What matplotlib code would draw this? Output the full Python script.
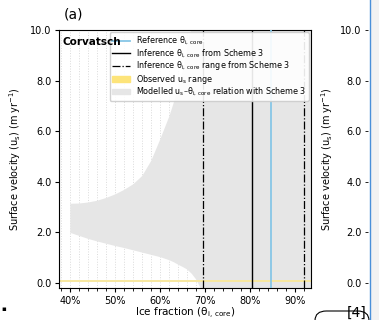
import matplotlib.pyplot as plt
from matplotlib.lines import Line2D
from matplotlib.patches import Patch, Rectangle, FancyBboxPatch
from matplotlib.ticker import MultipleLocator, PercentFormatter
import numpy as np

# modelled u_s - theta relation (band)
theta = [0.40, 0.42, 0.44, 0.46, 0.48, 0.50, 0.52, 0.54, 0.56, 0.58, 0.60,
         0.62, 0.63, 0.64, 0.65, 0.66, 0.67, 0.68, 0.69, 0.70, 0.80, 0.90, 0.95]
us_low = [2.00, 1.88, 1.76, 1.66, 1.57, 1.48, 1.40, 1.31, 1.22, 1.13, 1.04,
          0.92, 0.84, 0.74, 0.65, 0.55, 0.38, 0.15, -0.2, -0.2, -0.2, -0.2, -0.2]
us_high = [3.15, 3.16, 3.20, 3.27, 3.38, 3.52, 3.70, 3.92, 4.25, 4.85, 5.70,
           6.60, 7.15, 7.70, 8.40, 9.30, 10.2, 11.0, 11.0, 11.0, 11.0, 11.0, 11.0]

obs_range = (0.05, 0.11)
theta_ref = 0.847
theta_inf = 0.805
theta_inf_range = (0.695, 0.92)

yticks = [0, 2, 4, 6, 8, 10]
ylabel = "Surface velocity (u$_\\mathrm{s}$) (m yr$^{-1}$)"

fig = plt.figure(figsize=(3.79, 3.2), dpi=100)
ax = fig.add_axes([59 / 379, 32 / 320, 252 / 379, 258 / 320])

ax.fill_between(theta, us_low, us_high, color="#e6e6e6", lw=0, zorder=1)
ax.axhspan(obs_range[0], obs_range[1], color="#f7e7a0", lw=0, zorder=2)
ax.axvline(theta_ref, color="#87c6e6", lw=1.3, zorder=3)
ax.axvline(theta_inf, color="black", lw=1.0, zorder=3)
for t in theta_inf_range:
    ax.axvline(t, color="black", lw=0.9, ls="-.", zorder=3)

ax.set_xlim(0.376, 0.936)
ax.set_ylim(-0.2, 10)
ax.xaxis.set_major_locator(MultipleLocator(0.1))
ax.xaxis.set_minor_locator(MultipleLocator(0.02))
ax.xaxis.set_major_formatter(PercentFormatter(1.0, decimals=0))
ax.set_yticks(yticks)
ax.set_yticklabels([f"{v:.1f}" for v in yticks])
ax.tick_params(labelsize=7, length=3, width=0.8, pad=2.5)
ax.tick_params(which="minor", length=2, width=0.6)
ax.grid(which="both", axis="x", color="#dadada", ls=":", lw=0.7, zorder=0)
ax.set_axisbelow(True)
ax.set_xlabel("Ice fraction (θ$_\\mathrm{i,\\,core}$)", fontsize=7.5, labelpad=0.5)
ax.set_ylabel(ylabel, fontsize=7, labelpad=5)

ax.text(0.012, 0.955, "Corvatsch", transform=ax.transAxes, fontsize=7.5,
        fontweight="bold", va="center", ha="left", zorder=6)
fig.text(64 / 379, 1 - 15 / 320, "(a)", fontsize=10, va="center", ha="left")

handles = [
    Line2D([], [], color="#87c6e6", lw=1.3),
    Line2D([], [], color="black", lw=1.0),
    Line2D([], [], color="black", lw=0.9, ls="-."),
    Patch(color="#fde47a"),
    Patch(color="#e6e6e6"),
]
labels = [
    "Reference θ$_\\mathrm{i,\\,core}$",
    "Inference θ$_\\mathrm{i,\\,core}$ from Scheme 3",
    "Inference θ$_\\mathrm{i,\\,core}$ range from Scheme 3",
    "Observed u$_\\mathrm{s}$ range",
    "Modelled u$_\\mathrm{s}$–θ$_\\mathrm{i,\\,core}$ relation with Scheme 3",
]
leg = ax.legend(handles, labels, loc="upper right", fontsize=5.8, frameon=True,
                borderaxespad=0.25, handlelength=2.2, labelspacing=0.02,
                borderpad=0.35, handletextpad=0.7, framealpha=0.9)
leg.set_zorder(5)

# neighbouring panel, partly visible
ax2 = fig.add_axes([368 / 379, 32 / 320, 0.001, 258 / 320])
ax2.set_ylim(-0.2, 10)
ax2.set_yticks(yticks)
ax2.set_yticklabels([f"{v:.1f}" for v in yticks])
ax2.set_xticks([])
for s in ax2.spines.values():
    s.set_visible(False)
ax2.tick_params(labelsize=7, length=2, width=0.6, pad=2.5)
ax2.set_ylabel(ylabel, fontsize=7, labelpad=4)

fig.add_artist(Rectangle((370.5 / 379, 0), 9 / 379, 1, transform=fig.transFigure,
                         color="#f2f2f2", lw=0))
fig.add_artist(Line2D([370 / 379, 370 / 379], [0, 1], transform=fig.transFigure,
                      color="#4a90d9", lw=1.0))
fig.add_artist(FancyBboxPatch((315 / 379, -10 / 320), 54 / 379, 19 / 320,
                              boxstyle="round,pad=0,rounding_size=0.03",
                              transform=fig.transFigure, fc="white",
                              ec="black", lw=0.8))
fig.text(357 / 379, 7 / 320, "[4]", fontsize=10, ha="center", va="center")
fig.text(4 / 379, 11 / 320, "▪", fontsize=5, ha="center", va="center")

fig.savefig("out.png", dpi=100)
